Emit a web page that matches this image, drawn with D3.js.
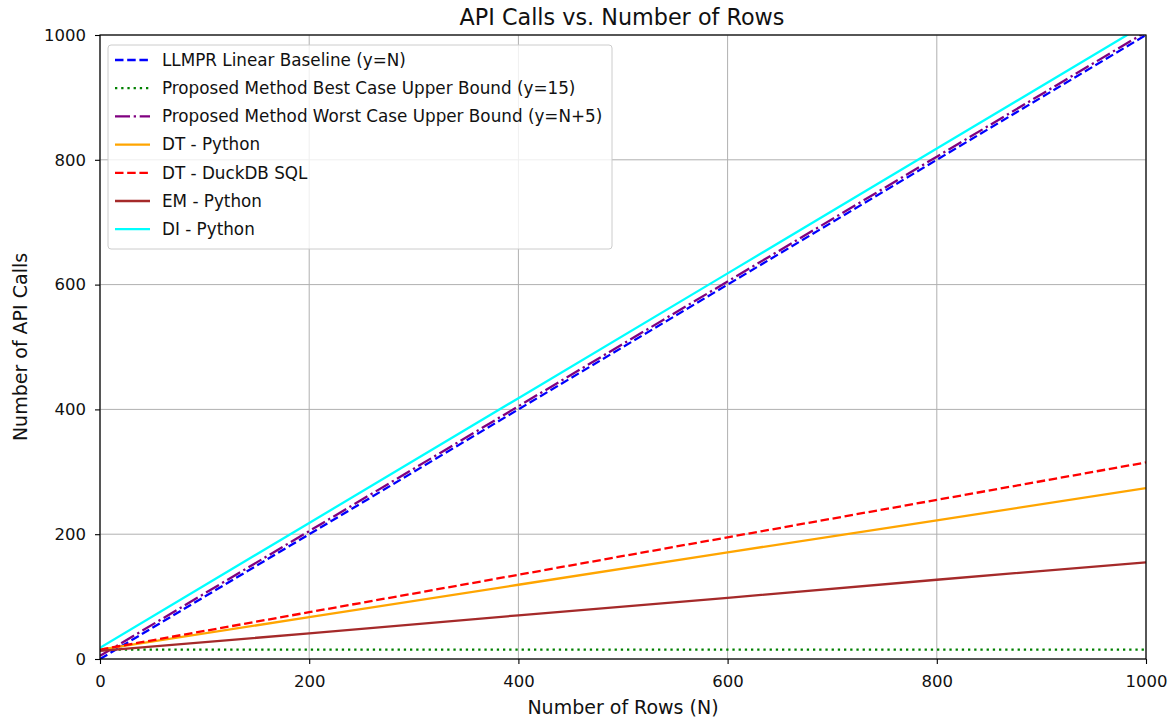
<!DOCTYPE html>
<html><head><meta charset="utf-8">
<script src="https://cdn.jsdelivr.net/npm/d3@7/dist/d3.min.js"></script>
<style>body{margin:0;background:#fff;} svg{display:block;font-family:"DejaVu Sans",sans-serif;}</style>
</head><body>
<svg id="c" width="1171" height="718"></svg>
<script>
const rowsN = [0, 200, 400, 600, 800, 1000];
const llmprBaseline = [0, 200, 400, 600, 800, 1000];
const bestCase = [15, 15, 15, 15, 15, 15];
const worstCase = [5, 205, 405, 605, 805, 1005];
const dtPython = [15, 67, 119, 171, 222, 274];
const dtDuckDB = [15, 75, 135, 195, 255, 315];
const emPython = [13, 41, 70, 98, 127, 155];
const diPython = [18, 218, 418, 618, 818, 1018];
const seriesNames = ["LLMPR Linear Baseline (y=N)", "Proposed Method Best Case Upper Bound (y=15)", "Proposed Method Worst Case Upper Bound (y=N+5)", "DT - Python", "DT - DuckDB SQL", "EM - Python", "DI - Python"];
const xTicks = [0, 200, 400, 600, 800, 1000];
const yTicks = [0, 200, 400, 600, 800, 1000];

const styles = [
  {color:"#0000ff", dash:"8.5,3.7"},
  {color:"#008000", dash:"2.3,3.9"},
  {color:"#800080", dash:"15,3.7,2.3,3.7"},
  {color:"#ffa500", dash:null},
  {color:"#ff0000", dash:"8.5,3.7"},
  {color:"#a52a2a", dash:null},
  {color:"#00ffff", dash:null}
];
const allSeries = [llmprBaseline, bestCase, worstCase, dtPython, dtDuckDB, emPython, diPython];

const svg = d3.select("#c");
const L = 100, R = 1146, T = 35, B = 659;
const x = d3.scaleLinear().domain([0, 1000]).range([L, R]);
const y = d3.scaleLinear().domain([0, 1000]).range([B, T]);

svg.append("defs").append("clipPath").attr("id","pc")
  .append("rect").attr("x",L).attr("y",T).attr("width",R-L).attr("height",B-T);

// grid
const g = svg.append("g");
g.selectAll(".gx").data(xTicks).join("line").attr("x1",d=>x(d)).attr("x2",d=>x(d)).attr("y1",T).attr("y2",B)
  .attr("stroke","#b0b0b0").attr("stroke-width",1);
g.selectAll(".gy").data(yTicks).join("line").attr("y1",d=>y(d)).attr("y2",d=>y(d)).attr("x1",L).attr("x2",R)
  .attr("stroke","#b0b0b0").attr("stroke-width",1);

// lines
const line = d3.line().x((d,i)=>x(rowsN[i])).y(d=>y(d));
const lg = svg.append("g").attr("clip-path","url(#pc)");
allSeries.forEach((s,i)=>{
  lg.append("path").attr("d", line(s)).attr("fill","none")
    .attr("stroke", styles[i].color).attr("stroke-width",2.3)
    .attr("stroke-dasharray", styles[i].dash);
});

// axes
const xa = svg.append("g").attr("transform",`translate(0,${B})`)
  .call(d3.axisBottom(x).tickValues(xTicks).tickSize(5).tickPadding(11).tickFormat(d3.format("d")));
const ya = svg.append("g").attr("transform",`translate(${L},0)`)
  .call(d3.axisLeft(y).tickValues(yTicks).tickSize(5).tickPadding(9).tickFormat(d3.format("d")));
[xa,ya].forEach(a=>{
  a.select(".domain").remove();
  a.selectAll("text").attr("font-size",16.5).attr("fill","#111").attr("font-family","DejaVu Sans");
  a.selectAll("line").attr("stroke","#000").attr("stroke-width",1.1);
});
svg.append("rect").attr("x",L).attr("y",T).attr("width",R-L).attr("height",B-T)
  .attr("fill","none").attr("stroke","#000").attr("stroke-width",1.2);

// title & labels
svg.append("text").attr("x",(L+R)/2 - 1).attr("y",25).attr("text-anchor","middle")
  .attr("font-size",22.3).attr("fill","#111").text("API Calls vs. Number of Rows");
svg.append("text").attr("x",(L+R)/2).attr("y",714).attr("text-anchor","middle")
  .attr("font-size",19).attr("fill","#111").text("Number of Rows (N)");
svg.append("text").attr("transform",`translate(27,${(T+B)/2}) rotate(-90)`).attr("text-anchor","middle")
  .attr("font-size",19).attr("fill","#111").text("Number of API Calls");

// legend
const lgx = 108, lgy = 45, lgw = 504, lgh = 204;
const leg = svg.append("g");
leg.append("rect").attr("x",lgx).attr("y",lgy).attr("width",lgw).attr("height",lgh)
  .attr("rx",3).attr("fill","#fff").attr("fill-opacity",0.8).attr("stroke","#cccccc").attr("stroke-width",1);
seriesNames.forEach((n,i)=>{
  const yy = lgy + 15 + i*28.2;
  leg.append("line").attr("x1",lgx+7).attr("x2",lgx+42).attr("y1",yy).attr("y2",yy)
    .attr("stroke",styles[i].color).attr("stroke-width",2.3).attr("stroke-dasharray",styles[i].dash);
  leg.append("text").attr("x",lgx+54).attr("y",yy).attr("dy","0.35em").attr("font-size",16.8).attr("fill","#111").text(n);
});
</script>
</body></html>
